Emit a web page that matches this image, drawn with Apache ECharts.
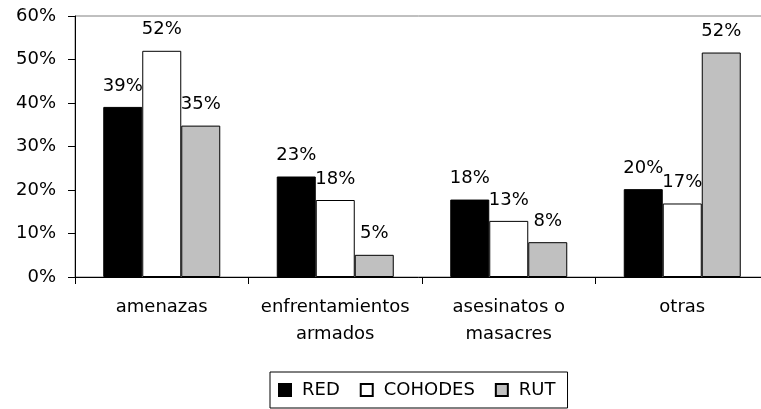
<!DOCTYPE html>
<html>
<head>
<meta charset="utf-8">
<script src="https://cdn.jsdelivr.net/npm/echarts@6/dist/echarts.min.js"></script>
<style>
  html, body { margin: 0; padding: 0; background: #fff; }
  #chart { width: 761px; height: 409px; }
</style>
</head>
<body>
<div id="chart"></div>
<script>
  // categorías del eje x
  const categories = ['amenazas', 'enfrentamientos\narmados', 'asesinatos o\nmasacres', 'otras']
  // valores en %
  const red = [39.1, 23.1, 17.8, 20.2]
  const cohodes = [52.0, 17.7, 12.9, 16.9]
  const rut = [34.8, 5.1, 8.0, 51.6]

  const fontFamily = 'DejaVu Sans'
  const chart = echarts.init(document.getElementById('chart'))

  function barSeries (name, data, color) {
    return {
      name: name,
      type: 'bar',
      data: data,
      barWidth: 39,
      barGap: '0%',
      itemStyle: {
        color: color,
        borderColor: '#000',
        borderWidth: 1,
        borderRadius: 0
      },
      label: {
        show: true,
        position: 'top',
        distance: 12,
        color: '#000',
        fontSize: 18,
        fontFamily: fontFamily,
        formatter: p => Math.round(p.value) + '%'
      },
      emphasis: { disabled: true },
      animation: false
    }
  }

  chart.setOption({
    backgroundColor: '#fff',
    textStyle: { fontFamily: fontFamily },
    grid: {
      left: 75,
      top: 16,
      width: 694,
      bottom: 132,
      outerBoundsMode: 'none',
      show: true,
      borderColor: '#808080',
      borderWidth: 1
    },
    legend: {
      left: 270,
      top: 372,
      padding: [9, 12, 9, 8],
      borderColor: '#000',
      borderWidth: 1,
      icon: 'rect',
      itemWidth: 12,
      itemHeight: 12,
      itemGap: 20,
      textStyle: {
        fontSize: 18,
        color: '#000',
        fontFamily: fontFamily,
        padding: [0, 0, 0, 6]
      },
      data: ['RED', 'COHODES', 'RUT']
    },
    xAxis: {
      type: 'category',
      data: categories,
      axisLine: { lineStyle: { color: '#000', width: 1 } },
      axisTick: { show: true, length: 7, lineStyle: { color: '#000' } },
      axisLabel: {
        color: '#000',
        fontSize: 18,
        fontFamily: fontFamily,
        lineHeight: 27,
        margin: 17,
        interval: 0
      }
    },
    yAxis: {
      type: 'value',
      min: 0,
      max: 60,
      interval: 10,
      splitLine: { show: false },
      axisLine: { show: true, lineStyle: { color: '#000', width: 1 } },
      axisTick: { show: true, length: 7, lineStyle: { color: '#000' } },
      axisLabel: {
        color: '#000',
        fontSize: 18,
        fontFamily: fontFamily,
        margin: 19,
        formatter: '{value}%'
      }
    },
    series: [
      barSeries('RED', red, '#000'),
      barSeries('COHODES', cohodes, '#fff'),
      barSeries('RUT', rut, '#c0c0c0')
    ]
  })
</script>
</body>
</html>
